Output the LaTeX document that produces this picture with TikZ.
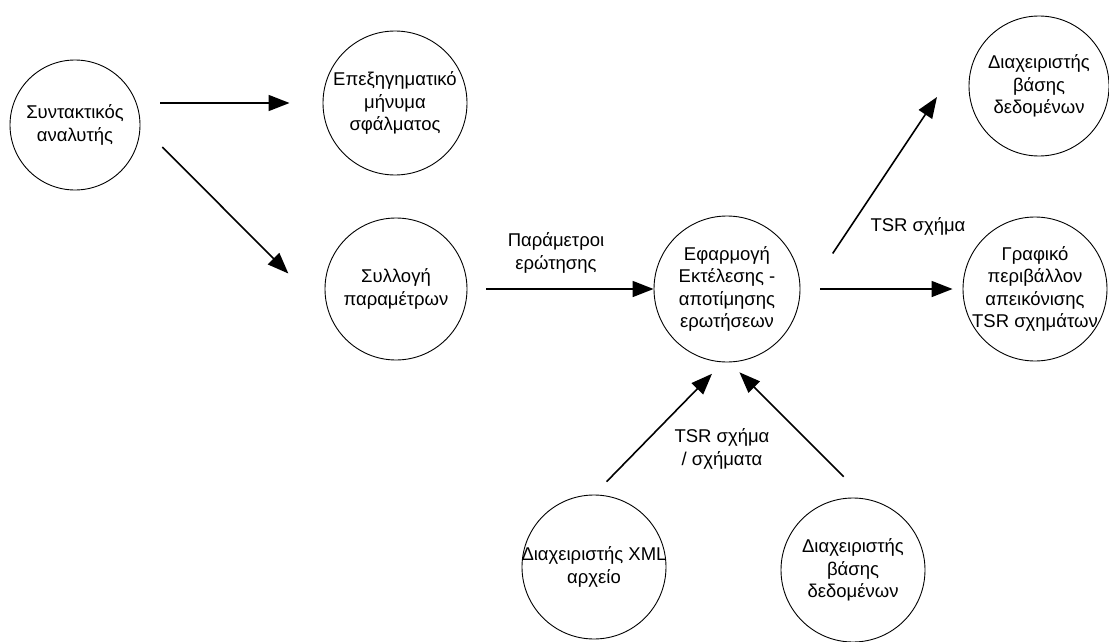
\documentclass[tikz,border=0pt]{standalone}
\usepackage{fontspec}
\setmainfont{Liberation Sans}
\usetikzlibrary{arrows.meta}
\begin{document}
\begin{tikzpicture}[x=1pt,y=-1pt,
  proc/.style={circle,draw,line width=0.9pt,inner sep=0pt,minimum size=#1},
  txt/.style={align=center,inner sep=0pt,font=\fontsize{18.5}{22.5}\selectfont},
  flow/.style={line width=1.6pt,-{Triangle[length=21pt,width=16pt]}}]
\useasboundingbox (0,0) rectangle (1109,642);

% processes (circles)
\node[proc=130pt] (c1) at (75,125) {};
\node[proc=144pt] (c2) at (395,103) {};
\node[proc=142pt] (c3) at (396,289) {};
\node[proc=146pt] (c4) at (727,289) {};
\node[proc=140pt] (c5) at (1039,86) {};
\node[proc=144pt] (c6) at (1035,289) {};
\node[proc=144pt] (c7) at (594,567) {};
\node[proc=144pt] (c8) at (853,570) {};

% process names
\node[txt] (t1) at (c1) {Συντακτικός\\αναλυτής};
\node[txt] (t2) at (c2) {Επεξηγηματικό\\μήνυμα\\σφάλματος};
\node[txt] (t3) at (c3) {Συλλογή\\παραμέτρων};
\node[txt] (t4) at (c4) {Εφαρμογή\\Εκτέλεσης -\\αποτίμησης\\ερωτήσεων};
\node[txt] (t5) at (c5) {Διαχειριστής\\βάσης\\δεδομένων};
\node[txt] (t6) at (c6) {Γραφικό\\περιβάλλον\\απεικόνισης\\TSR σχημάτων};
\node[txt] (t7) at (c7) {Διαχειριστής XML\\αρχείο};
\node[txt] (t8) at (c8) {Διαχειριστής\\βάσης\\δεδομένων};

% data flows
\coordinate (tip5) at (937,97);
\draw[flow,shorten <=20pt,shorten >=33pt] (c1.east |- c2.west) -- (c2.west);
\draw[flow,shorten <=31pt,shorten >=58pt] (c1.east) -- (c3.201.8);
\draw[flow,shorten <=19pt] (c3.east) -- (c4.west);
\draw[flow,shorten <=20pt,shorten >=10pt] (c4.east) -- (c6.west);
\draw[flow,shorten <=61pt] (c4.-12.7) -- (tip5);
\draw[flow,shorten <=18pt,shorten >=16pt] (c7.north) -- (c4.267.6);
\draw[flow,shorten <=31pt,shorten >=14pt] (c8.80.4) -- (c4.272.4);

% flow labels
\node[txt] (l1) at (556,253) {Παράμετροι\\ερώτησης};
\node[txt] (l2) at (918,226) {TSR σχήμα};
\node[txt] (l3) at (722,449) {TSR σχήμα\\/ σχήματα};
\end{tikzpicture}
\end{document}
